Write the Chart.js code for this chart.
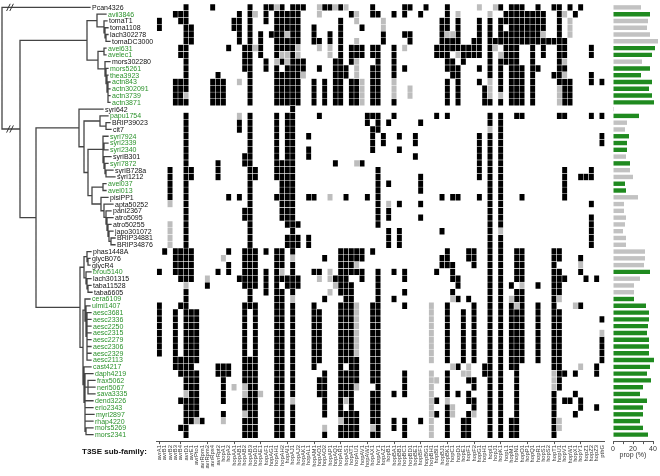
<!DOCTYPE html>
<html>
<head>
<meta charset="utf-8">
<script src="https://cdn.jsdelivr.net/npm/chart.js@4.4.1/dist/chart.umd.min.js"></script>
<style>
  html, body { margin: 0; padding: 0; background: #fff; }
  #wrap { position: relative; width: 660px; height: 476px; overflow: hidden; font-family: "Liberation Sans", Arial, sans-serif; }
  #wrap canvas { position: absolute; top: 0; }
  #tree { left: 0; }
  #heat { left: 150px; }
  #bars { left: 600px; }
  #famTitle { position: absolute; left: 82px; top: 447px; font-size: 8px; line-height: 10px; font-weight: bold; color: #111; }
</style>
</head>
<body>
<div id="wrap">
  <canvas id="tree" width="160" height="476"></canvas>
  <canvas id="heat" width="460" height="476"></canvas>
  <canvas id="bars" width="60" height="476"></canvas>
  <div id="famTitle">T3SE sub-family:</div>
</div>
<script>
// strains, top to bottom (same order as the tree tips)
const strains = ['Pcan4326', 'avii3846', 'tomaT1', 'toma1108', 'lach302278', 'tomaDC3000', 'avel631', 'avelec1',
  'mors302280', 'mors5261', 'thea3923', 'actn843', 'actn302091', 'actn3739', 'actn3871', 'syri642', 'papu1754',
  'BRIP39023', 'cit7', 'syri7924', 'syri2339', 'syri2340', 'syriB301', 'syri7872', 'syriB728a', 'syri1212',
  'avel037', 'avel013', 'pisiPP1', 'apta50252', 'pani2367', 'atro5095', 'atro50255', 'japo301072', 'BRIP34881',
  'BRIP34876', 'phas1448A', 'glycB076', 'glycR4', 'brou5140', 'lach301315', 'taba11528', 'taba6605', 'cera6109',
  'ulmi1407', 'aesc3681', 'aesc2336', 'aesc2250', 'aesc2315', 'aesc2279', 'aesc2306', 'aesc2329', 'aesc2113',
  'cast4217', 'daph4219', 'frax5062', 'neri5067', 'sava3335', 'dend3226', 'erio2343', 'myri2897', 'rhap4220',
  'mors5269', 'mors2341'];

// strains printed in green
const greenStrains = ['avii3846', 'avel631', 'avelec1', 'mors5261', 'thea3923', 'actn843', 'actn302091', 'actn3739',
  'actn3871', 'papu1754', 'syri7924', 'syri2339', 'syri2340', 'syri7872', 'avel037', 'avel013', 'brou5140',
  'cera6109', 'ulmi1407', 'aesc3681', 'aesc2336', 'aesc2250', 'aesc2315', 'aesc2279', 'aesc2306', 'aesc2329',
  'aesc2113', 'cast4217', 'daph4219', 'frax5062', 'neri5067', 'sava3335', 'dend3226', 'erio2343', 'myri2897',
  'rhap4220', 'mors5269', 'mors2341'];

// tree with branch lengths
const newick = '(Pcan4326:88,(((avii3846:9,(tomaT1:3,(toma1108:3,(lach302278:2,tomaDC3000:4):1):1):7):10,' +
  '((avel631:2,avelec1:2):6,(mors302280:5,(mors5261:2,(thea3923:1,(actn843:2,actn302091:2,actn3739:2,actn3871:2):1):1):1):7):11):67,' +
  '((syri642:24,((papu1754:8,(BRIP39023:4,cit7:5):6):16,((syri7924:5,(syri2339:4,syri2340:4):1,(syriB301:7,(syri7872:3,(syriB728a:7,syri1212:9):1):1):1):15,' +
  '((avel037:3,avel013:3):11,(pisiPP1:7,(apta50252:9,(pani2367:5,(atro5095:6,(atro50255:3,(japo301072:4,(BRIP34881:4,BRIP34876:4):2):1):1):1):2):3):9):4):4):5):43,' +
  '(((phas1448A:4,(glycB076:2,glycR4:2):1):3,(brou5140:5,(lach301315:4,(taba11528:3,taba6605:4):1):1):2):4,' +
  '((cera6109:5,(ulmi1407:4,(aesc3681:4,aesc2336:4,aesc2250:4,aesc2315:4,aesc2279:4,aesc2306:4,aesc2329:4,aesc2113:4):1):1):2,' +
  '(cast4217:7,(daph4219:8,(frax5062:7,neri5067:7,sava3335:7):3,dend3226:8,erio2343:8,myri2897:9,rhap4220:8,(mors5269:7,mors2341:7):1):1):1):3):44):16):18):2;';

// T3SE sub-families (heatmap columns)
const families = ['avrA1', 'avrB1', 'avrB2', 'avrB3', 'avrB4', 'avrD1', 'avrE1', 'avrPto1', 'avrRpm1', 'avrRpm2',
  'avrRps4', 'avrRpt2', 'hopA1', 'hopA2', 'hopAA1', 'hopAB1', 'hopAB2', 'hopAB3', 'hopAD1', 'hopAE1', 'hopAF1',
  'hopAG1', 'hopAH1', 'hopAH2', 'hopAI1', 'hopAJ1', 'hopAJ2', 'hopAK1', 'hopAL1', 'hopAM1', 'hopAO1', 'hopAO2',
  'hopAP1', 'hopAQ1', 'hopAR1', 'hopAS1', 'hopAT1', 'hopAU1', 'hopAV1', 'hopAW1', 'hopAX1', 'hopAY1', 'hopAZ1',
  'hopB1', 'hopBA1', 'hopBB1', 'hopBC1', 'hopBD1', 'hopBE1', 'hopBF1', 'hopBG1', 'hopBH1', 'hopBI1', 'hopBJ1',
  'hopBK1', 'hopC1', 'hopD1', 'hopE1', 'hopF1', 'hopF2', 'hopG1', 'hopH1', 'hopI1', 'hopJ1', 'hopK1', 'hopL1',
  'hopM1', 'hopN1', 'hopO1', 'hopP1', 'hopQ1', 'hopR1', 'hopS1', 'hopS2', 'hopT1', 'hopU1', 'hopV1', 'hopW1',
  'hopX1', 'hopY1', 'hopZ1', 'hopZ2', 'hopZ3', 'pthG'];

// columns (1-based) that carry a tick mark
const markedTicks = [1, 5, 10, 15, 20, 25, 30, 35, 40, 45, 50, 55, 60, 65, 70, 75, 80];

// present (black) cells per strain, column numbers 1-based
const blackCells = [
  '6 11 18 21 22 24 26-28 32 33 35 41 47 48 51 55 65 67-69 72 75 76 78 80',
  '4-6 16 18 21 23-27 37 41 42 45 47 50 55 66-73 76 79',
  '1 5 6 15 16 18 21 23-27 35 54 55 57 61 63 65-73 76',
  '1 6 7 15 16 18 23-27 30 35 39 54 55 57 61 63 65 67-73 76',
  '6 7 16 18 20 22-24 26 27 30 33 35 43 47 48 54 57 61 63 65-72 76',
  '6 7 16 18 20 23-27 30 31 33 35 43 48 54-57 60 61 63-77',
  '5 6 14 17 18 20 23-26 35 37-39 41 42 45 53-61 63 66-68 71 73 76 77 82',
  '5 6 17 18 20 23 26 35 37-39 41 42 45 53-55 58-61 63 66-68 71 73 76 77 82',
  '6 17 18 21 24 26-28 34 35 37 42 45 55 56 58 63 65-68 71 76',
  '6 17 18 21 23 25-28 31 34-36 41 42 45 47 55-57 61 63 65 67-69 71 72 76 77',
  '6 12 18 23-27 34-36 41 42 45 56 57 63 65 67-69 71 75 76 82',
  '4-6 11-13 18 23-27 30 32 34 35 37 38 41 42 55 57 61 65 67-69 71 76-78 82 84',
  '4-6 11-13 18 23-27 30 32 34 35 37 38 41 42 55 57 62 65 67-69 71 77 78',
  '4 5 11-13 18 23-27 30 32 34 35 37 38 41 42 55 57 62 67-69 71 77 78',
  '4-6 11-13 18 23-27 30 32 34 35 37 38 41 42 45 55 57 62 63 65 67-69 71 77 78',
  '26',
  '6 18 23 25 26 31 40-42 45 53 55 63 65 68 69 76 77 82 84',
  '6 16 18 23 25 26 40 42 44 50 63 65',
  '6 16 18 23 25 26 41 42 65',
  '6 18 23 25 26 29 41 43 46 49 61 63 65 84',
  '6 18 23 25 26 41 43 49 61 63 65 84',
  '6 18 23 25 26 29 41 46 61 63 65',
  '6 17 18 23 25 26 29 49 61 63 65',
  '6 12 17 18 23-26 34 39 61 63 65',
  '3 6 7 12 18 19 23-26 42 61 63 65 77 82',
  '3 6 7 12 18 19 23-26 42 50 61 63 65 77 80-82',
  '3 6 18 24-26 42 44 50 63 65 77',
  '3 6 18 24-26 42 50 63 65 77',
  '3 6 14 16 18 23-26 29 30 36 40 42 54 56 57 61 63 65 69 77',
  '6 18 24-26 42 46 50 63 65 82',
  '6 17 18 24-26 42 44 63 65',
  '6 17 18 24-26 42 44 50 63 65 82',
  '6 18 25-27 42 63 65 82',
  '6 18 26 44 46 54 63 82',
  '6 18 25-27 29 44 46 63 65 82',
  '6 18 25-27 29 44 46 63 65 82',
  '2 4-7 14 17-19 21 23 24 26 35-39 41 55 59 60 63 65 68 69 75 76',
  '4-7 17-19 23 24 32 35-39 54 55 59 60 63 65 68 69 75 76 80',
  '4-7 14 17-19 23 24 26 35-37 54-56 60 63 65 68 69 75',
  '1 4-7 12 14 17-19 21 23 26 30 31 35-39 42 45 47 53 56 63 65 68 69 75 76 80',
  '5-7 16-19 21 23-27 34-36 39 42 47 56 57 63 65 68 69 75-77 81 83',
  '10 17-19 21 23 25-27 35-37 42 57 63 65 67 72 75 76',
  '6 18 21 23 24 26 35-37 42 47 56 63 65 68 69 75 76',
  '6 18 23 24 32 36 37 42 45 57 59 63 65 68 69 75',
  '1 5 6 17-19 23 24 26 30 35-37 41 42 47 55 60 63 65 67 69 72 75 80',
  '1 4 6-8 17 19 23 24 26 30 31 35-37 41 42 55 58 60 63 65 67-69 72 75 76',
  '1 4 6-8 17 19 23 24 26 30 31 35-37 41 42 55 58 60 63 65 67-69 72 75 76 84',
  '1 4 6-8 17 19 23 24 26 30 31 35-37 41 42 55 58 60 63 65 67-69 72 75 76',
  '1 4 6-8 17 19 23 24 26 30 31 35-37 41 42 55 58 60 63 65 67-69 72 75 76',
  '1 4 6-8 17 19 23 24 26 30 31 35-37 41 42 55 58 60 63 65 67-69 72 75 76 84',
  '1 4 6-8 17 19 23 24 26 30 31 35-37 41 42 55 58 60 63 65 67-69 72 75 76 84',
  '1 4 6-8 17 19 23 24 26 30 31 35-37 41 42 55 58 60 63 65 67-69 72 75 76 84',
  '4-8 17-19 23 24 26 30 31 35-38 41 42 55 58 60 63 65 67-69 72 75 76 84',
  '4-7 12-14 17-19 23 24 26 30 35 37 38 41 42 57 62 63 65 67 68 75 76 83',
  '5-8 12-14 17-19 23 24 26 32 35-38 41 42 47 55 62 63 65 68 76 77 79 83',
  '6-8 13 17-19 23 24 26 31 32 35-38 41 42 47 55 59 60 63 65 68 76',
  '6-8 13 18 19 23 24 26 31 32 35-37 42 47 55 60 63 65 68 76',
  '7 8 13 18 19 23 24 26 31 32 35-37 41 42 45 47 55 57 59 63 65 68 75 79',
  '5-8 13 17-19 23 24 32 35 37 41 42 53 59 60 63 65 68 75 77 78 80',
  '6-8 17-19 23 24 26 32 35 37 41 42 55 60 63 65 68 75 80 83',
  '6-8 13 18 19 23 24 26 32 35-38 41 42 53 55 59 63 65 68 75 79',
  '6 7 9 17-19 23 24 26 36-38 41 42 45 47 50 55 58 59 63 65 67 68 75',
  '5 6 17-19 23 24 26 35-38 42 45 47 55 58 59 63 65 67 68 75',
  '6 17-19 23 24 26 32 35-38 41 42 47 55 58 59 63 65 67 68 75'
];

// partial (grey) cells per strain
const greyCells = [
  '23 31 34 36 61 64', '19 31 38 57 63 77', '38 43 78', '43 78', '25 55 56 73 78', '38',
  '19 27 31 33 47 64', '24 25 27 33 57 65', '23 25 38 77', '38', '28 38 77', '16 39 45 63',
  '39 45 48 63 76', '6 39 45 48 63 65 76', '39 76', '', '16', '', '63', '', '', '', '', '38',
  '', '', '', '', '33', '3 44', '', '', '3', '3 65', '3', '3', '', '13 26', '38 80', '24 33',
  '10 31 33', '6 34 69', '33', '26 56 67 76', '38 52 68 79', '38 52', '38 52', '38 52', '38 52 84',
  '38 52', '38 52', '38 52', '52', '56 59 80', '52 58 59 75', '52 53 75', '15 17 38 52 75',
  '6 17 20 52', '26 36 52 55', '52 56', '17 52 56 60', '8 13 35 52 76', '32 41 52 76', '52'
];

// prop (%) bar values
const props = [28, 37, 35, 34, 37, 45, 42, 39, 29, 37, 28, 39, 36, 39, 41, 1, 26, 14, 12, 16, 14, 14, 13, 17, 17,
  20, 12, 13, 25, 11, 11, 13, 12, 10, 13, 13, 32, 32, 31, 37, 27, 21, 21, 21, 33, 36, 36, 35, 34, 36, 36, 36, 41,
  37, 34, 38, 30, 27, 34, 30, 30, 27, 30, 35];

const GREEN = '#1f8a1f';
const LABEL_GREEN = '#2b922b';
const GREY_BAR = '#c2c2c2';
const GREY_CELL = '#bdbdbd';
const ROW_MAX = 63.95; // leaves a small gap under the last row for the axis line
const AXIS_H = 34.9;

Chart.defaults.font.family = '"Liberation Sans", Arial, sans-serif';
Chart.defaults.color = '#222';

function expand(spec) {
  let out = [];
  spec.split(' ').filter(Boolean).forEach(function (tok) {
    let parts = tok.split('-').map(Number);
    for (let c = parts[0]; c <= (parts[1] || parts[0]); c++) out.push(c);
  });
  return out;
}

function parseNewick(s) {
  let i = 0;
  function node() {
    let n = { children: [], name: '', len: 0 };
    if (s[i] === '(') {
      i++;
      n.children.push(node());
      while (s[i] === ',') { i++; n.children.push(node()); }
      i++;
    }
    while (i < s.length && ':,);'.indexOf(s[i]) < 0) n.name += s[i++];
    if (s[i] === ':') {
      i++;
      let num = '';
      while (i < s.length && ',);'.indexOf(s[i]) < 0) num += s[i++];
      n.len = parseFloat(num);
    }
    return n;
  }
  return node();
}

// ---- tree ----
(function () {
  let tree = parseNewick(newick);
  let leaves = [];
  function place(n, x0) {
    n.x = x0 + n.len;
    if (!n.children.length) { n.y = strains.indexOf(n.name); leaves.push(n); return; }
    n.children.forEach(function (c) { place(c, n.x); });
    n.y = (n.children[0].y + n.children[n.children.length - 1].y) / 2;
  }
  place(tree, 0);

  let segs = [];
  function edges(n) {
    if (!n.children.length) return;
    let first = n.children[0], last = n.children[n.children.length - 1];
    segs.push({ x: first.x, y: first.y }, { x: n.x, y: first.y }, { x: n.x, y: last.y }, { x: last.x, y: last.y }, { x: null, y: null });
    n.children.slice(1, -1).forEach(function (c) {
      segs.push({ x: n.x, y: c.y }, { x: c.x, y: c.y }, { x: null, y: null });
    });
    n.children.forEach(edges);
  }
  edges(tree);

  let tipLabels = {
    id: 'tipLabels',
    afterDatasetsDraw(chart) {
      let ctx = chart.ctx, xs = chart.scales.x, ys = chart.scales.y;
      ctx.save();
      ctx.font = '7px "Liberation Sans", Arial, sans-serif';
      ctx.textBaseline = 'middle';
      leaves.forEach(function (l) {
        ctx.fillStyle = greenStrains.indexOf(l.name) >= 0 ? LABEL_GREEN : '#111';
        ctx.fillText(l.name, xs.getPixelForValue(l.x) + 2, ys.getPixelForValue(l.y) + 0.5);
      });
      // break marks on the two root branches
      ctx.strokeStyle = '#333';
      ctx.lineWidth = 1;
      let bx = xs.getPixelForValue(tree.x) + 8;
      tree.children.forEach(function (c) {
        let by = ys.getPixelForValue(c.y);
        ctx.beginPath();
        [-1.6, 1.6].forEach(function (dx) {
          ctx.moveTo(bx + dx - 1.8, by + 3.6);
          ctx.lineTo(bx + dx + 1.8, by - 3.6);
        });
        ctx.stroke();
      });
      ctx.restore();
    }
  };

  new Chart(document.getElementById('tree'), {
    type: 'scatter',
    data: { datasets: [{ data: segs, showLine: true, spanGaps: false, borderColor: '#444', borderWidth: 1.3, pointRadius: 0, borderCapStyle: 'square' }] },
    options: {
      responsive: false, animation: false,
      layout: { padding: { left: 0, right: 0, top: 4, bottom: AXIS_H } },
      plugins: { legend: { display: false }, tooltip: { enabled: false } },
      scales: {
        x: { type: 'linear', min: 0, max: 160, display: false },
        y: { type: 'linear', min: -0.5, max: ROW_MAX, reverse: true, display: false }
      }
    },
    plugins: [tipLabels]
  });
})();

// ---- heatmap ----
(function () {
  let black = [], grey = [];
  strains.forEach(function (s, r) {
    expand(blackCells[r]).forEach(function (c) { black.push({ x: families[c - 1], y: [r - 0.5, r + 0.5] }); });
    expand(greyCells[r]).forEach(function (c) { grey.push({ x: families[c - 1], y: [r - 0.5, r + 0.5] }); });
  });
  let cellStyle = { grouped: false, barPercentage: 1, categoryPercentage: 1, borderWidth: 0.5, borderColor: '#ffffff', borderSkipped: false };

  new Chart(document.getElementById('heat'), {
    type: 'bar',
    data: {
      labels: families,
      datasets: [
        Object.assign({ label: 'partial', data: grey, backgroundColor: GREY_CELL }, cellStyle),
        Object.assign({ label: 'present', data: black, backgroundColor: '#000' }, cellStyle)
      ]
    },
    options: {
      responsive: false, animation: false,
      layout: { padding: { left: 6.7, right: 5.3, top: 4, bottom: 0 } },
      plugins: { legend: { display: false }, tooltip: { enabled: false } },
      scales: {
        x: {
          type: 'category', offset: true,
          afterFit: function (scale) { scale.height = AXIS_H; },
          border: { color: '#555', width: 1 },
          grid: {
            offset: false, drawOnChartArea: false, tickLength: 3,
            color: function (ctx) { return markedTicks.indexOf(ctx.index + 1) >= 0 ? '#555' : 'rgba(0,0,0,0)'; }
          },
          ticks: { autoSkip: false, minRotation: 90, maxRotation: 90, padding: 1, font: { size: 5.8 }, color: '#333' }
        },
        y: { type: 'linear', min: -0.5, max: ROW_MAX, reverse: true, offset: false, display: false }
      }
    }
  });
})();

// ---- prop (%) bars ----
(function () {
  const barAxisH = 18;
  new Chart(document.getElementById('bars'), {
    type: 'bar',
    data: {
      datasets: [{
        data: props.map(function (v, i) { return { x: v, y: i }; }),
        backgroundColor: strains.map(function (s) { return greenStrains.indexOf(s) >= 0 ? GREEN : GREY_BAR; }),
        barPercentage: 0.65, categoryPercentage: 1, clip: false
      }]
    },
    options: {
      indexAxis: 'y', responsive: false, animation: false,
      layout: { padding: { left: 13, right: 7, top: 4, bottom: AXIS_H - barAxisH } },
      plugins: { legend: { display: false }, tooltip: { enabled: false } },
      scales: {
        x: {
          type: 'linear', min: 0, max: 40,
          afterFit: function (scale) { scale.height = barAxisH; },
          border: { color: '#555', width: 1 },
          grid: { drawOnChartArea: false, tickLength: 3, color: '#555' },
          ticks: {
            stepSize: 10, padding: 1, autoSkip: false, minRotation: 0, maxRotation: 0,
            font: { size: 7 }, color: '#333',
            callback: function (v) { return v % 20 === 0 ? v : ''; }
          },
          title: { display: true, text: 'prop (%)', font: { size: 7 }, color: '#333', padding: 0 }
        },
        y: { type: 'linear', min: -0.5, max: ROW_MAX, reverse: true, offset: false, display: false }
      }
    }
  });
})();
</script>
</body>
</html>
